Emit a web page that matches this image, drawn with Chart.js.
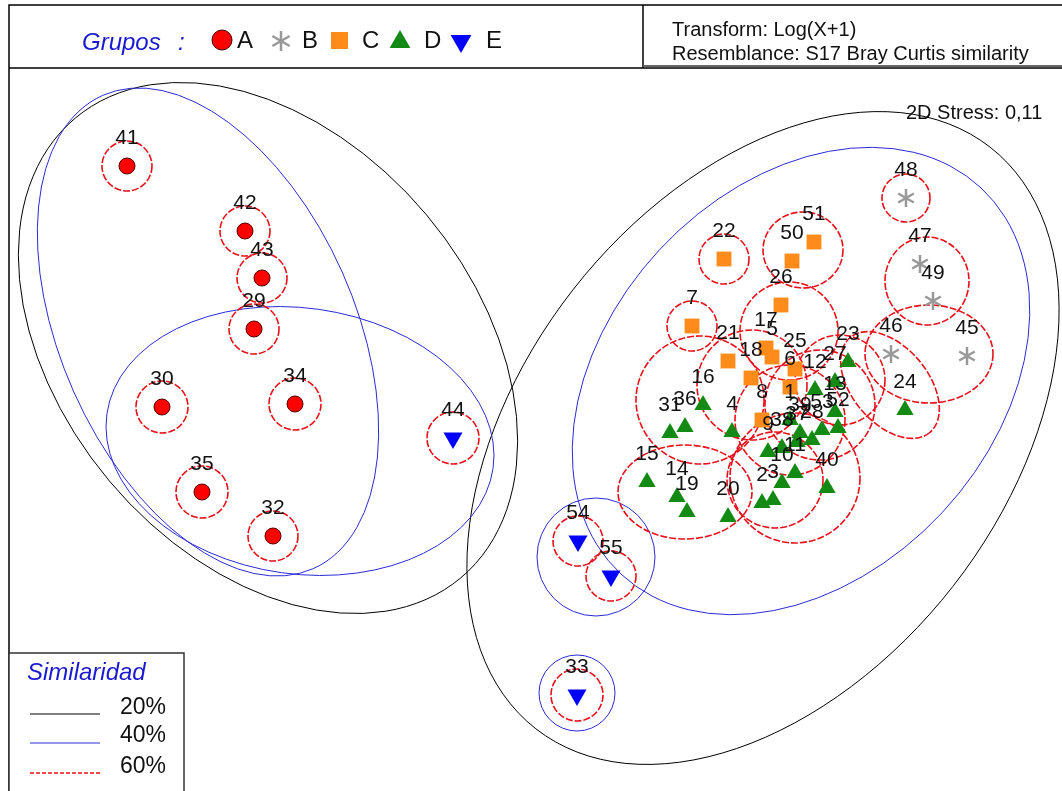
<!DOCTYPE html>
<html>
<head>
<meta charset="utf-8">
<script src="https://cdn.jsdelivr.net/npm/chart.js@4"></script>
<style>
  body { margin: 0; background: #fff; }
  #wrap { width: 1062px; height: 791px; }
</style>
</head>
<body>
<div id="wrap"><canvas id="chart"></canvas></div>
<script>
// MDS coordinates (arbitrary units)
const grupoA = [
  { n: "41", x: -4.03, y: 2.64 }, { n: "42", x: -2.85, y: 1.99 },
  { n: "43", x: -2.68, y: 1.52 }, { n: "29", x: -2.76, y: 1.01 },
  { n: "30", x: -3.68, y: 0.23 }, { n: "34", x: -2.35, y: 0.26 },
  { n: "35", x: -3.28, y: -0.62 }, { n: "32", x: -2.57, y: -1.06 },
];
const grupoB = [
  { n: "48", x: 3.76, y: 2.32 }, { n: "47", x: 3.90, y: 1.66 },
  { n: "49", x: 4.03, y: 1.29 }, { n: "46", x: 3.61, y: 0.76 },
  { n: "45", x: 4.37, y: 0.74 },
];
const grupoC = [
  { n: "22", x: 1.94, y: 1.71 }, { n: "50", x: 2.62, y: 1.69 },
  { n: "51", x: 2.84, y: 1.88 }, { n: "26", x: 2.51, y: 1.25 },
  { n: "7", x: 1.62, y: 1.04 }, { n: "21", x: 1.98, y: 0.69 },
  { n: "17", x: 2.36, y: 0.82 }, { n: "5", x: 2.42, y: 0.73 },
  { n: "18", x: 2.21, y: 0.52 }, { n: "25", x: 2.65, y: 0.61 },
  { n: "6", x: 2.60, y: 0.43 }, { n: "8", x: 2.32, y: 0.10 },
];
const grupoD = [
  { n: "16", x: 1.73, y: 0.25 }, { n: "36", x: 1.55, y: 0.03 },
  { n: "31", x: 1.40, y: -0.03 }, { n: "4", x: 2.02, y: -0.02 },
  { n: "15", x: 1.17, y: -0.52 }, { n: "14", x: 1.47, y: -0.67 },
  { n: "19", x: 1.57, y: -0.82 }, { n: "20", x: 1.98, y: -0.87 },
  { n: "2", x: 2.32, y: -0.73 }, { n: "3", x: 2.43, y: -0.70 },
  { n: "10", x: 2.52, y: -0.53 }, { n: "11", x: 2.65, y: -0.43 },
  { n: "40", x: 2.97, y: -0.58 }, { n: "24", x: 3.75, y: 0.20 },
  { n: "23", x: 3.18, y: 0.68 }, { n: "27", x: 3.05, y: 0.48 },
  { n: "12", x: 2.85, y: 0.40 }, { n: "13", x: 3.05, y: 0.18 },
  { n: "52", x: 3.08, y: 0.02 }, { n: "53", x: 2.92, y: 0.00 },
  { n: "39", x: 2.70, y: -0.03 }, { n: "38", x: 2.52, y: -0.18 },
  { n: "37", x: 2.67, y: -0.12 }, { n: "9", x: 2.38, y: -0.22 },
  { n: "1", x: 2.60, y: 0.10 }, { n: "28", x: 2.82, y: -0.10 },
];
const grupoE = [
  { n: "44", x: -0.77, y: -0.08 }, { n: "54", x: 0.48, y: -1.11 },
  { n: "55", x: 0.81, y: -1.46 }, { n: "33", x: 0.47, y: -2.65 },
];

// similarity contours: centre, semi-axes, tilt (deg)
const contorno20 = [
  { x: -2.62, y: 0.82, a: 3.00, b: 2.07, ang: 50 },
  { x: 2.33, y: -0.08, a: 3.69, b: 2.41, ang: -52 },
];
const contorno40 = [
  { x: -3.22, y: 0.98, a: 2.59, b: 1.47, ang: 66 },
  { x: -2.30, y: -0.11, a: 1.95, b: 1.33, ang: 8 },
  { x: 2.71, y: 0.49, a: 2.64, b: 1.93, ang: -47 },
  { x: 0.66, y: -1.27, a: 0.59, b: 0.59, ang: 0 },
  { x: 0.47, y: -2.63, a: 0.38, b: 0.38, ang: 0 },
];
const contorno60 = [
  { x: -4.03, y: 2.64, a: 0.25, b: 0.25, ang: 0 },
  { x: -2.85, y: 1.99, a: 0.25, b: 0.25, ang: 0 },
  { x: -2.68, y: 1.52, a: 0.25, b: 0.25, ang: 0 },
  { x: -2.76, y: 1.01, a: 0.25, b: 0.25, ang: 0 },
  { x: -3.68, y: 0.23, a: 0.26, b: 0.26, ang: 0 },
  { x: -2.35, y: 0.26, a: 0.26, b: 0.26, ang: 0 },
  { x: -3.28, y: -0.62, a: 0.26, b: 0.26, ang: 0 },
  { x: -2.57, y: -1.06, a: 0.25, b: 0.25, ang: 0 },
  { x: -0.77, y: -0.08, a: 0.26, b: 0.26, ang: 0 },
  { x: 0.48, y: -1.11, a: 0.25, b: 0.25, ang: 0 },
  { x: 0.81, y: -1.46, a: 0.25, b: 0.25, ang: 0 },
  { x: 0.47, y: -2.65, a: 0.26, b: 0.26, ang: 0 },
  { x: 3.76, y: 2.32, a: 0.24, b: 0.24, ang: 0 },
  { x: 1.94, y: 1.71, a: 0.25, b: 0.25, ang: 0 },
  { x: 1.62, y: 1.04, a: 0.25, b: 0.25, ang: 0 },
  { x: 2.73, y: 1.80, a: 0.40, b: 0.38, ang: 0 },
  { x: 3.97, y: 1.49, a: 0.42, b: 0.44, ang: 0 },
  { x: 3.99, y: 0.76, a: 0.64, b: 0.49, ang: 0 },
  { x: 3.60, y: 0.45, a: 0.62, b: 0.38, ang: 50 },
  { x: 2.59, y: 0.99, a: 0.49, b: 0.49, ang: 0 },
  { x: 1.70, y: 0.30, a: 0.64, b: 0.64, ang: 0 },
  { x: 2.22, y: 0.45, a: 0.55, b: 0.55, ang: 0 },
  { x: 1.55, y: -0.62, a: 0.67, b: 0.47, ang: 0 },
  { x: 2.90, y: 0.25, a: 0.55, b: 0.55, ang: 0 },
  { x: 2.60, y: 0.10, a: 0.55, b: 0.55, ang: 0 },
  { x: 2.65, y: -0.48, a: 0.65, b: 0.65, ang: 0 },
  { x: 2.45, y: -0.50, a: 0.48, b: 0.48, ang: 0 },
  { x: 3.10, y: 0.50, a: 0.45, b: 0.45, ang: 0 },
];

const grupos = ["A", "B", "C", "D", "E"];
const niveles = ["20%", "40%", "60%"];

function asterisco(r, color) {
  const c = document.createElement("canvas");
  c.width = c.height = 2 * r + 4;
  const g = c.getContext("2d");
  g.strokeStyle = color;
  g.lineWidth = 2.5;
  const m = r + 2;
  g.beginPath();
  for (let k = 0; k < 3; k++) {
    const a = Math.PI / 2 + k * Math.PI / 3;
    g.moveTo(m + r * Math.cos(a), m + r * Math.sin(a));
    g.lineTo(m - r * Math.cos(a), m - r * Math.sin(a));
  }
  g.stroke();
  return c;
}
const starImg = asterisco(9, "#999999");
const starLegend = asterisco(10, "#999999");

function elipses(ctx, xs, ys, list) {
  list.forEach((e) => {
    const cx = xs.getPixelForValue(e.x), cy = ys.getPixelForValue(e.y);
    const rx = Math.abs(xs.getPixelForValue(e.x + e.a) - cx);
    const ry = Math.abs(ys.getPixelForValue(e.y + e.b) - cy);
    ctx.beginPath();
    ctx.ellipse(cx, cy, rx, ry, e.ang * Math.PI / 180, 0, 2 * Math.PI);
    ctx.stroke();
  });
}

function tri(ctx, x, y, r, down) {
  const s = down ? -1 : 1;
  ctx.beginPath();
  ctx.moveTo(x, y - s * r);
  ctx.lineTo(x + r * 0.866, y + s * r * 0.5);
  ctx.lineTo(x - r * 0.866, y + s * r * 0.5);
  ctx.closePath();
  ctx.fill();
}

const decor = {
  id: "decor",
  beforeDraw(chart) {
    const ctx = chart.ctx;
    ctx.save();
    ctx.fillStyle = "#fff";
    ctx.fillRect(0, 0, chart.width, chart.height);
    ctx.restore();
  },
  beforeDatasetsDraw(chart) {
    const ctx = chart.ctx, xs = chart.scales.x, ys = chart.scales.y;
    ctx.save();
    ctx.lineWidth = 1;
    ctx.strokeStyle = "#000";
    elipses(ctx, xs, ys, contorno20);
    ctx.strokeStyle = "#2a2ad8";
    elipses(ctx, xs, ys, contorno40);
    ctx.strokeStyle = "#e8101a";
    ctx.lineWidth = 1.6;
    ctx.setLineDash([7, 2]);
    elipses(ctx, xs, ys, contorno60);
    ctx.restore();
  },
  afterDatasetsDraw(chart) {
    const ctx = chart.ctx;
    ctx.save();
    // point labels
    ctx.font = "21px 'Liberation Sans', Arial, sans-serif";
    ctx.fillStyle = "#111";
    ctx.textAlign = "center";
    ctx.textBaseline = "middle";
    chart.data.datasets.forEach((ds, i) => {
      chart.getDatasetMeta(i).data.forEach((el, j) => {
        ctx.fillText(ds.data[j].n, el.x, el.y - 28);
      });
    });

    // frames
    ctx.strokeStyle = "#000";
    ctx.lineWidth = 1.5;
    ctx.beginPath();
    ctx.moveTo(1062, 5); ctx.lineTo(9, 5); ctx.lineTo(9, 791);
    ctx.moveTo(9, 68); ctx.lineTo(1062, 68);
    ctx.moveTo(643, 5); ctx.lineTo(643, 68);
    ctx.stroke();
    ctx.strokeStyle = "#666";
    ctx.lineWidth = 2;
    ctx.beginPath();
    ctx.moveTo(643, 66); ctx.lineTo(1062, 66);
    ctx.stroke();

    // header legend
    ctx.textAlign = "left";
    ctx.fillStyle = "#1a1ad0";
    ctx.font = "italic 24px 'Liberation Sans', Arial, sans-serif";
    ctx.fillText("Grupos", 82, 43);
    ctx.fillText(":", 178, 43);
    ctx.font = "24px 'Liberation Sans', Arial, sans-serif";
    ctx.fillStyle = "#111";
    const lx = [237, 302, 362, 424, 486];
    grupos.forEach((g, k) => ctx.fillText(g, lx[k], 41));
    ctx.fillStyle = "#ff0000";
    ctx.strokeStyle = "#400";
    ctx.lineWidth = 1;
    ctx.beginPath(); ctx.arc(222, 40, 10, 0, 2 * Math.PI); ctx.fill(); ctx.stroke();
    ctx.drawImage(starLegend, 281 - 12, 41 - 12);
    ctx.fillStyle = "#ff8c1a";
    ctx.fillRect(331, 32, 17, 17);
    ctx.fillStyle = "#138a13";
    tri(ctx, 400, 42, 12, false);
    ctx.fillStyle = "#0000ff";
    tri(ctx, 461, 41, 12, true);

    ctx.fillStyle = "#111";
    ctx.font = "20px 'Liberation Sans', Arial, sans-serif";
    ctx.fillText("Transform: Log(X+1)", 672, 30);
    ctx.fillText("Resemblance: S17 Bray Curtis similarity", 672, 54);
    ctx.fillText("2D Stress: 0,11", 906, 113);

    // similarity legend box
    ctx.fillStyle = "#fff";
    ctx.fillRect(9, 653, 175, 140);
    ctx.strokeStyle = "#333";
    ctx.lineWidth = 1.5;
    ctx.strokeRect(9, 653, 175, 140);
    ctx.fillStyle = "#1a1ad0";
    ctx.font = "italic 24px 'Liberation Sans', Arial, sans-serif";
    ctx.fillText("Similaridad", 27, 673);
    ctx.font = "23px 'Liberation Sans', Arial, sans-serif";
    ctx.fillStyle = "#111";
    const ly = [708, 736, 767];
    const lineY = [714, 743, 773];
    const lineC = ["#000", "#2a2ad8", "#e8101a"];
    niveles.forEach((t, k) => {
      ctx.fillText(t, 120, ly[k]);
      ctx.strokeStyle = lineC[k];
      ctx.lineWidth = k === 2 ? 1.6 : 1;
      ctx.setLineDash(k === 2 ? [4, 2] : []);
      ctx.beginPath();
      ctx.moveTo(30, lineY[k]); ctx.lineTo(100, lineY[k]);
      ctx.stroke();
    });
    ctx.restore();
  },
};

const ctx = document.getElementById("chart").getContext("2d");
new Chart(ctx, {
  type: "scatter",
  data: {
    datasets: [
      { label: "A", data: grupoA, pointStyle: "circle", pointRadius: 8,
        backgroundColor: "#ff0000", borderColor: "#500", borderWidth: 1 },
      { label: "B", data: grupoB, pointStyle: starImg },
      { label: "C", data: grupoC, pointStyle: "rect", pointRadius: 10.5,
        backgroundColor: "#ff8c1a", borderColor: "#ff8c1a", borderWidth: 0 },
      { label: "D", data: grupoD, pointStyle: "triangle", pointRadius: 10,
        backgroundColor: "#138a13", borderColor: "#138a13", borderWidth: 0 },
      { label: "E", data: grupoE, pointStyle: "triangle", rotation: 180, pointRadius: 11,
        backgroundColor: "#0000ff", borderColor: "#0000ff", borderWidth: 0 },
    ],
  },
  options: {
    responsive: true,
    maintainAspectRatio: false,
    animation: false,
    layout: { padding: 0, autoPadding: false },
    scales: {
      x: { type: "linear", display: false, min: -5.3, max: 5.32 },
      y: { type: "linear", display: false, min: -3.61, max: 4.3 },
    },
    plugins: {
      legend: { display: false },
      tooltip: { enabled: false },
    },
  },
  plugins: [decor],
});
</script>
</body>
</html>
